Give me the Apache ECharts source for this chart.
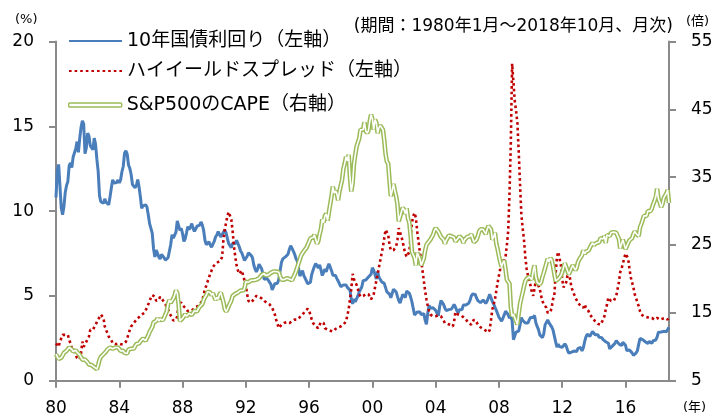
<!DOCTYPE html>
<html>
<head>
<meta charset="utf-8">
<script src="https://cdn.jsdelivr.net/npm/echarts@6/dist/echarts.min.js"></script>
<style>
  html, body { margin: 0; padding: 0; background: #fff; }
  #chart { width: 718px; height: 419px; }
</style>
</head>
<body>
<div id="chart"></div>
<script>
  // 月次 1980年1月～2018年10月
  var months = [];
  for (var y = 1980; y <= 2018; y++) {
    for (var m = 1; m <= 12; m++) {
      if (y === 2018 && m > 10) break;
      months.push(y + '-' + (m < 10 ? '0' + m : m));
    }
  }
  var yearTickStep = 48; // 4年ごと

  // 10年国債利回り（左軸, %）
  var bondYield = [
    10.80, 12.41, 12.75, 11.47, 10.18, 9.78, 10.25, 11.10, 11.51, 11.75, 12.68, 12.84,
    12.57, 13.19, 13.12, 13.68, 14.10, 13.47, 14.28, 14.94, 15.32, 15.15, 13.39, 13.72,
    14.59, 14.43, 13.86, 13.87, 13.62, 14.30, 13.95, 13.06, 12.34, 10.91, 10.55, 10.54,
    10.46, 10.72, 10.51, 10.40, 10.38, 10.85, 11.38, 11.85, 11.65, 11.54, 11.69, 11.83,
    11.67, 11.84, 12.32, 12.63, 13.41, 13.56, 13.36, 12.72, 12.52, 12.16, 11.57, 11.50,
    11.38, 11.51, 11.86, 11.43, 10.85, 10.16, 10.31, 10.33, 10.37, 10.24, 9.78, 9.26,
    9.19, 8.70, 7.78, 7.30, 7.71, 7.80, 7.30, 7.17, 7.45, 7.43, 7.25, 7.11,
    7.08, 7.25, 7.25, 8.02, 8.61, 8.40, 8.45, 8.76, 9.42, 9.52, 8.86, 8.99,
    8.67, 8.21, 8.37, 8.72, 9.09, 8.92, 9.06, 9.26, 8.98, 8.80, 8.96, 9.11,
    9.09, 9.17, 9.36, 9.18, 8.86, 8.28, 8.02, 8.11, 8.19, 8.01, 7.87, 7.84,
    8.21, 8.47, 8.59, 8.79, 8.76, 8.48, 8.47, 8.75, 8.89, 8.72, 8.39, 8.08,
    8.09, 7.85, 8.11, 8.04, 8.07, 8.28, 8.27, 7.90, 7.65, 7.53, 7.42, 7.09,
    7.03, 7.34, 7.54, 7.48, 7.39, 7.26, 6.84, 6.59, 6.42, 6.59, 6.87, 6.77,
    6.60, 6.26, 5.98, 5.97, 6.04, 5.96, 5.81, 5.68, 5.36, 5.33, 5.72, 5.77,
    5.75, 5.97, 6.48, 6.97, 7.18, 7.10, 7.30, 7.24, 7.46, 7.74, 7.96, 7.81,
    7.78, 7.47, 7.20, 7.06, 6.63, 6.17, 6.28, 6.49, 6.20, 6.04, 5.93, 5.71,
    5.65, 5.81, 6.27, 6.51, 6.74, 6.91, 6.87, 6.64, 6.83, 6.53, 6.20, 6.30,
    6.58, 6.42, 6.69, 6.89, 6.71, 6.49, 6.22, 6.30, 6.21, 6.03, 5.88, 5.81,
    5.54, 5.57, 5.65, 5.64, 5.65, 5.50, 5.46, 5.34, 4.81, 4.53, 4.83, 4.65,
    4.72, 5.00, 5.23, 5.18, 5.54, 5.90, 5.79, 5.94, 5.92, 6.11, 6.03, 6.28,
    6.66, 6.52, 6.26, 5.99, 6.44, 6.10, 6.05, 5.83, 5.80, 5.74, 5.72, 5.24,
    5.16, 5.10, 4.89, 5.14, 5.39, 5.28, 5.24, 4.97, 4.73, 4.57, 4.65, 5.09,
    5.04, 4.91, 5.28, 5.21, 5.16, 4.93, 4.65, 4.26, 3.87, 3.94, 4.05, 4.03,
    4.05, 3.90, 3.81, 3.96, 3.57, 3.33, 3.98, 4.45, 4.27, 4.29, 4.30, 4.27,
    4.15, 4.08, 3.83, 4.35, 4.72, 4.73, 4.50, 4.28, 4.13, 4.10, 4.19, 4.23,
    4.22, 4.17, 4.50, 4.34, 4.14, 4.00, 4.18, 4.26, 4.20, 4.46, 4.54, 4.47,
    4.42, 4.57, 4.72, 4.99, 5.11, 5.11, 5.09, 4.88, 4.72, 4.73, 4.60, 4.56,
    4.76, 4.72, 4.56, 4.69, 4.75, 5.10, 5.00, 4.67, 4.52, 4.53, 4.15, 4.10,
    3.74, 3.74, 3.51, 3.68, 3.88, 4.10, 4.01, 3.89, 3.69, 3.81, 3.53, 2.42,
    2.52, 2.87, 2.82, 2.93, 3.29, 3.72, 3.56, 3.59, 3.40, 3.39, 3.40, 3.59,
    3.73, 3.69, 3.73, 3.85, 3.42, 3.20, 3.01, 2.70, 2.65, 2.54, 2.76, 3.29,
    3.39, 3.58, 3.41, 3.46, 3.17, 3.00, 3.00, 2.30, 1.98, 2.15, 2.01, 1.98,
    1.97, 1.97, 2.17, 2.05, 1.80, 1.62, 1.53, 1.68, 1.72, 1.75, 1.65, 1.72,
    1.91, 1.98, 1.96, 1.76, 1.93, 2.30, 2.58, 2.74, 2.81, 2.62, 2.72, 2.90,
    2.86, 2.71, 2.72, 2.71, 2.56, 2.60, 2.54, 2.42, 2.53, 2.30, 2.33, 2.21,
    1.88, 1.98, 2.04, 1.94, 2.20, 2.36, 2.32, 2.17, 2.17, 2.07, 2.26, 2.24,
    2.09, 1.78, 1.89, 1.81, 1.81, 1.64, 1.50, 1.56, 1.63, 1.76, 2.14, 2.49,
    2.43, 2.42, 2.48, 2.30, 2.30, 2.19, 2.32, 2.21, 2.20, 2.36, 2.35, 2.40,
    2.58, 2.86, 2.84, 2.87, 2.98, 2.91, 2.89, 2.89, 3.00, 3.15
  ];

  // ハイイールドスプレッド（左軸, %）
  var hySpread = [
    2.2, 2.3, 2.0, 2.3, 2.5, 2.7, 2.8, 2.7, 2.6, 2.7, 2.4, 2.2,
    1.9, 2.0, 1.7, 1.5, 1.35, 1.3, 1.25, 1.6, 2.3, 2.0, 2.1, 2.3,
    2.3, 2.6, 3.0, 2.9, 3.0, 2.95, 3.3, 3.4, 3.6, 3.75, 3.9, 4.0,
    3.7, 3.2, 3.0, 2.8, 2.6, 2.5, 2.4, 2.2, 2.2, 2.15, 2.2, 2.2,
    2.2, 2.15, 2.2, 2.15, 2.2, 2.3, 2.5, 2.6, 3.0, 3.2, 3.3, 3.4,
    3.45, 3.6, 3.7, 3.75, 3.8, 3.9, 3.85, 4.0, 4.1, 4.3, 4.5, 4.7,
    4.9, 5.05, 5.0, 4.95, 4.7, 4.65, 4.8, 4.95, 4.9, 4.75, 4.65, 4.5,
    4.4, 4.2, 4.0, 3.9, 3.7, 3.55, 3.5, 3.6, 3.8, 4.6, 4.7, 4.6,
    4.45, 4.35, 4.3, 4.2, 4.1, 4.05, 4.1, 4.15, 4.2, 4.3, 4.35, 4.35,
    4.4, 4.45, 4.6, 4.75, 5.05, 5.4, 5.6, 5.85, 5.95, 6.3, 6.5, 6.7,
    6.75, 6.9, 6.95, 7.0, 7.05, 7.1, 7.3, 8.3, 8.9, 9.3, 9.7, 9.95,
    10.0, 9.5, 8.8, 7.9, 7.3, 6.8, 6.5, 6.3, 6.4, 6.5, 6.2, 6.1,
    5.6, 5.1, 4.7, 4.6, 4.6, 4.7, 4.8, 4.9, 5.0, 5.0, 4.95, 4.9,
    4.85, 4.8, 4.7, 4.65, 4.6, 4.55, 4.5, 4.4, 4.3, 4.1, 3.9, 3.6,
    3.35, 3.1, 3.2, 3.3, 3.35, 3.4, 3.45, 3.45, 3.4, 3.4, 3.45, 3.5,
    3.55, 3.6, 3.6, 3.6, 3.7, 3.75, 3.8, 3.9, 4.0, 4.1, 4.2, 4.25,
    4.1, 3.9, 3.6, 3.4, 3.3, 3.2, 3.1, 3.1, 3.3, 3.45, 3.55, 3.4,
    3.1, 3.0, 3.0, 3.05, 2.95, 2.9, 2.9, 2.95, 3.05, 3.1, 3.15, 3.2,
    3.2, 3.25, 3.3, 3.4, 3.5, 3.6, 4.2, 4.8, 5.4, 6.3, 6.0, 5.8,
    5.65, 5.4, 5.1, 4.95, 4.95, 5.0, 5.05, 5.1, 5.15, 5.1, 4.95, 4.8,
    4.8, 5.1, 5.5, 5.9, 6.3, 6.7, 7.1, 7.5, 7.9, 8.4, 8.9, 9.0,
    8.6, 8.0, 7.7, 7.6, 7.7, 7.8, 7.9, 8.3, 9.0, 9.1, 8.5, 8.2,
    7.8, 7.5, 7.3, 7.2, 7.6, 8.5, 9.3, 9.7, 9.9, 9.6, 8.8, 8.2,
    7.6, 7.1, 6.5, 5.9, 5.3, 4.8, 4.4, 4.1, 3.9, 3.8, 3.8, 3.75,
    3.8, 3.75, 3.85, 3.9, 3.8, 3.7, 3.55, 3.4, 3.4, 3.35, 3.3, 3.3,
    3.25, 3.2, 3.5, 4.05, 4.15, 3.9, 3.85, 3.85, 3.8, 3.75, 3.7, 3.6,
    3.5, 3.4, 3.3, 3.3, 3.45, 3.6, 3.55, 3.45, 3.3, 3.2, 3.15, 3.1,
    3.05, 3.0, 2.95, 2.9, 2.85, 3.0, 3.6, 4.2, 4.5, 4.8, 5.3, 5.8,
    6.2, 6.6, 7.1, 6.9, 6.8, 7.3, 8.0, 8.8, 11.0, 14.0, 18.7, 17.6,
    16.5, 15.9, 15.2, 13.5, 11.6, 9.8, 9.0, 8.3, 7.3, 6.6, 6.2, 5.9,
    5.6, 5.2, 5.0, 5.1, 5.9, 6.1, 5.6, 5.4, 5.0, 4.7, 4.5, 4.4,
    4.3, 4.0, 4.1, 4.05, 4.3, 4.8, 5.0, 6.3, 7.3, 7.6, 7.2, 6.8,
    6.0, 5.5, 5.6, 5.8, 6.2, 6.4, 6.0, 5.5, 5.3, 5.1, 4.9, 4.8,
    4.6, 4.5, 4.4, 4.4, 4.3, 4.5, 4.3, 4.2, 4.1, 3.9, 3.8, 3.7,
    3.6, 3.5, 3.4, 3.35, 3.3, 3.3, 3.4, 3.6, 3.8, 4.2, 4.5, 4.9,
    5.0, 4.7, 4.6, 4.7, 4.6, 5.0, 5.4, 5.8, 6.4, 6.6, 6.9, 7.2,
    7.5, 7.6, 7.2, 6.6, 6.1, 5.8, 5.5, 5.1, 4.9, 4.6, 4.4, 4.1,
    3.9, 3.8, 3.8, 3.8, 3.75, 3.7, 3.7, 3.8, 3.7, 3.65, 3.6, 3.65,
    3.7, 3.7, 3.6, 3.6, 3.65, 3.7, 3.7, 3.6, 3.6, 3.8
  ];

  // S&P500のCAPE（右軸, 倍）
  var cape = [
    8.9, 8.9, 8.2, 8.0, 8.4, 8.7, 9.1, 9.3, 9.4, 9.6, 9.9, 9.7,
    9.6, 9.3, 9.4, 9.5, 9.2, 9.0, 8.8, 8.6, 8.1, 8.0, 8.1, 8.0,
    7.7, 7.4, 7.2, 7.3, 7.3, 7.0, 6.9, 6.7, 7.3, 8.1, 8.5, 8.7,
    8.9, 9.1, 9.3, 9.6, 9.8, 9.9, 9.8, 9.7, 9.8, 9.9, 9.8, 9.9,
    9.7, 9.4, 9.3, 9.4, 9.1, 9.2, 9.0, 9.6, 9.7, 9.7, 9.8, 9.7,
    10.1, 10.4, 10.5, 10.5, 10.8, 11.0, 11.2, 11.0, 10.9, 11.1, 11.7, 12.2,
    12.3, 12.9, 13.6, 13.8, 13.8, 14.2, 13.8, 14.1, 14.0, 13.9, 14.3, 14.4,
    15.2, 16.3, 16.9, 16.5, 16.5, 17.1, 17.6, 18.3, 17.9, 16.3, 13.8, 13.9,
    14.2, 14.5, 14.8, 14.5, 14.3, 14.9, 15.0, 14.7, 14.9, 15.3, 15.1, 15.2,
    15.6, 15.9, 15.8, 16.3, 16.9, 17.3, 17.6, 18.1, 18.1, 18.0, 17.6, 17.9,
    17.8, 16.9, 17.3, 17.0, 17.7, 18.0, 17.8, 16.6, 15.6, 15.2, 15.5, 16.0,
    15.9, 16.8, 17.5, 17.7, 17.8, 17.9, 18.0, 18.2, 18.3, 18.3, 18.3, 18.6,
    19.6, 19.7, 19.5, 19.6, 19.8, 19.8, 19.8, 20.0, 19.9, 19.8, 20.1, 20.3,
    20.6, 20.6, 20.8, 20.5, 20.6, 20.6, 20.6, 20.9, 21.0, 21.1, 21.0, 21.1,
    21.1, 21.0, 20.4, 19.9, 19.9, 19.9, 19.8, 20.1, 20.1, 20.0, 19.9, 19.8,
    20.2, 20.6, 21.1, 21.7, 22.3, 22.9, 23.5, 23.6, 24.1, 24.2, 24.6, 24.8,
    25.5, 26.0, 25.9, 26.1, 26.5, 26.3, 25.2, 25.6, 26.6, 27.4, 28.8, 28.3,
    29.3, 29.6, 28.6, 29.8, 31.0, 32.2, 33.6, 32.6, 33.0, 32.6, 31.6, 32.9,
    33.0, 34.6, 36.2, 37.0, 38.0, 37.4, 38.3, 35.0, 32.9, 34.1, 36.9, 38.3,
    39.5, 39.6, 40.7, 42.0, 41.8, 42.0, 43.1, 41.8, 41.5, 41.8, 43.2, 44.2,
    43.6, 42.0, 43.5, 43.0, 41.5, 42.3, 42.6, 42.8, 42.0, 40.4, 38.4, 37.3,
    37.0, 34.5, 32.2, 33.0, 34.0, 33.0, 32.2, 31.0, 28.5, 28.5, 29.9, 30.5,
    30.2, 29.6, 30.4, 28.9, 28.3, 26.4, 24.0, 23.8, 23.1, 22.0, 23.9, 23.4,
    23.0, 22.0, 21.8, 23.0, 24.2, 25.0, 25.3, 25.4, 25.8, 26.0, 26.5, 27.1,
    27.5, 27.7, 27.0, 27.0, 26.2, 26.4, 25.8, 25.2, 25.7, 25.6, 26.4, 26.6,
    26.3, 26.3, 26.1, 25.5, 25.5, 26.0, 26.3, 26.1, 25.9, 25.3, 25.8, 26.0,
    26.2, 26.1, 26.3, 26.6, 26.0, 25.4, 25.3, 25.8, 26.3, 27.0, 27.3, 27.2,
    27.3, 27.5, 26.6, 27.3, 27.8, 27.6, 27.3, 25.8, 26.2, 26.8, 25.2, 24.4,
    23.4, 22.5, 21.8, 22.4, 22.7, 21.4, 19.9, 20.0, 19.3, 15.9, 14.5, 14.8,
    14.9, 13.8, 13.3, 14.9, 16.3, 17.2, 18.0, 18.9, 19.7, 20.0, 20.1, 20.3,
    20.5, 19.9, 21.2, 22.0, 20.3, 19.5, 19.7, 19.2, 19.5, 20.3, 20.9, 21.6,
    22.3, 23.0, 22.5, 23.1, 22.8, 21.9, 22.1, 19.7, 19.5, 20.0, 20.1, 20.5,
    21.0, 21.7, 22.3, 22.3, 21.2, 20.7, 21.1, 21.6, 22.0, 22.1, 21.3, 21.7,
    22.5, 22.9, 23.1, 23.5, 24.2, 23.7, 24.0, 23.8, 24.2, 24.4, 25.0, 25.3,
    25.0, 24.8, 25.3, 25.2, 25.4, 26.0, 25.9, 25.9, 26.3, 25.3, 26.5, 26.5,
    26.3, 26.8, 27.0, 26.9, 27.0, 26.8, 26.8, 25.9, 24.5, 25.2, 25.8, 25.8,
    24.4, 24.2, 25.3, 25.7, 25.9, 26.0, 26.6, 27.0, 26.7, 26.5, 26.3, 27.6,
    28.1, 28.7, 29.3, 29.1, 29.3, 30.0, 30.1, 30.0, 30.4, 31.0, 31.5, 32.1,
    33.3, 31.8, 31.3, 30.6, 31.0, 31.9, 32.0, 32.6, 33.1, 31.2
  ];

  var FONT = "'DejaVu Sans', 'Noto Sans CJK JP', sans-serif";
  var AXIS_GRAY = '#8a8a8a';
  var BLUE = '#4A7EBB';
  var RED = '#C00000';
  var GREEN = '#9BBB59';

  var tickAt = function (idx) { return idx % yearTickStep === 0; };

  var myChart = echarts.init(document.getElementById('chart'), null, { renderer: 'canvas' });

  var legendBase = {
    orient: 'vertical',
    left: 68,
    padding: 0,
    itemWidth: 53,
    selectedMode: false,
    textStyle: { fontFamily: FONT, fontSize: 19, color: '#000', lineHeight: 20 }
  };

  var option = {
    animation: false,
    backgroundColor: '#fff',
    title: {
      text: '(期間：1980年1月～2018年10月、月次)',
      right: 45,
      top: 18,
      padding: 0,
      textStyle: { fontFamily: FONT, fontSize: 17, fontWeight: 'normal', color: '#000' }
    },
    legend: [
      Object.assign({}, legendBase, {
        top: 31, itemHeight: 14,
        data: [{ name: '10年国債利回り（左軸）', itemStyle: { opacity: 0 } }]
      }),
      Object.assign({}, legendBase, {
        top: 61, itemHeight: 14,
        data: [{ name: 'ハイイールドスプレッド（左軸）', itemStyle: { opacity: 0 } }]
      }),
      Object.assign({}, legendBase, {
        top: 95, itemHeight: 4,
        data: [{
          name: 'S&P500のCAPE（右軸）',
          icon: 'roundRect',
          itemStyle: { color: '#fff', borderColor: GREEN, borderWidth: 1.4 }
        }]
      })
    ],
    grid: { left: 56, right: 49, top: 41.5, bottom: 38.3, containLabel: false },
    xAxis: {
      type: 'category',
      boundaryGap: false,
      data: months,
      axisLine: { lineStyle: { color: AXIS_GRAY, width: 2 } },
      axisTick: { show: true, interval: tickAt, length: 7, lineStyle: { color: AXIS_GRAY, width: 2 } },
      axisLabel: {
        interval: tickAt,
        margin: 19,
        fontFamily: FONT, fontSize: 17, color: '#000',
        formatter: function (v) { return v.slice(2, 4); }
      },
      splitLine: { show: false }
    },
    yAxis: [
      {
        type: 'value', position: 'left',
        min: 0, max: 20, interval: 5,
        axisLine: { show: true, lineStyle: { color: AXIS_GRAY, width: 2 } },
        axisTick: { show: true, length: 7, lineStyle: { color: AXIS_GRAY, width: 2 } },
        axisLabel: { margin: 22, fontFamily: FONT, fontSize: 17, color: '#000' },
        splitLine: { show: false }
      },
      {
        type: 'value', position: 'right',
        min: 5, max: 55, interval: 10,
        axisLine: { show: true, lineStyle: { color: AXIS_GRAY, width: 2 } },
        axisTick: { show: true, length: 7, lineStyle: { color: AXIS_GRAY, width: 2 } },
        axisLabel: { margin: 22, fontFamily: FONT, fontSize: 17, color: '#000' },
        splitLine: { show: false }
      }
    ],
    graphic: [
      { type: 'text', left: 15, top: 13, style: { text: '(%)', fontFamily: FONT, fontSize: 13, fill: '#000' } },
      { type: 'text', left: 686, top: 15, style: { text: '(倍)', fontFamily: FONT, fontSize: 13, fill: '#000' } },
      { type: 'text', left: 683, top: 401, style: { text: '(年)', fontFamily: FONT, fontSize: 13, fill: '#000' } }
    ],
    series: [
      {
        name: '10年国債利回り（左軸）',
        type: 'line', yAxisIndex: 0,
        data: bondYield,
        symbol: 'none',
        lineStyle: { color: BLUE, width: 3 },
        itemStyle: { color: BLUE }
      },
      {
        name: 'ハイイールドスプレッド（左軸）',
        type: 'line', yAxisIndex: 0,
        data: hySpread,
        symbol: 'none',
        lineStyle: { color: RED, width: 2.6, type: [2.6, 3] },
        itemStyle: { color: RED }
      },
      {
        name: 'S&P500のCAPE（右軸）',
        type: 'line', yAxisIndex: 1,
        data: cape,
        symbol: 'none',
        lineStyle: { color: GREEN, width: 4.6 },
        itemStyle: { color: GREEN }
      },
      {
        // 二重線の内側（白）
        name: 'cape-inner',
        type: 'line', yAxisIndex: 1,
        data: cape,
        symbol: 'none',
        silent: true,
        lineStyle: { color: '#fff', width: 1.6 },
        itemStyle: { color: '#fff' }
      }
    ]
  };

  option && myChart.setOption(option);
</script>
</body>
</html>
